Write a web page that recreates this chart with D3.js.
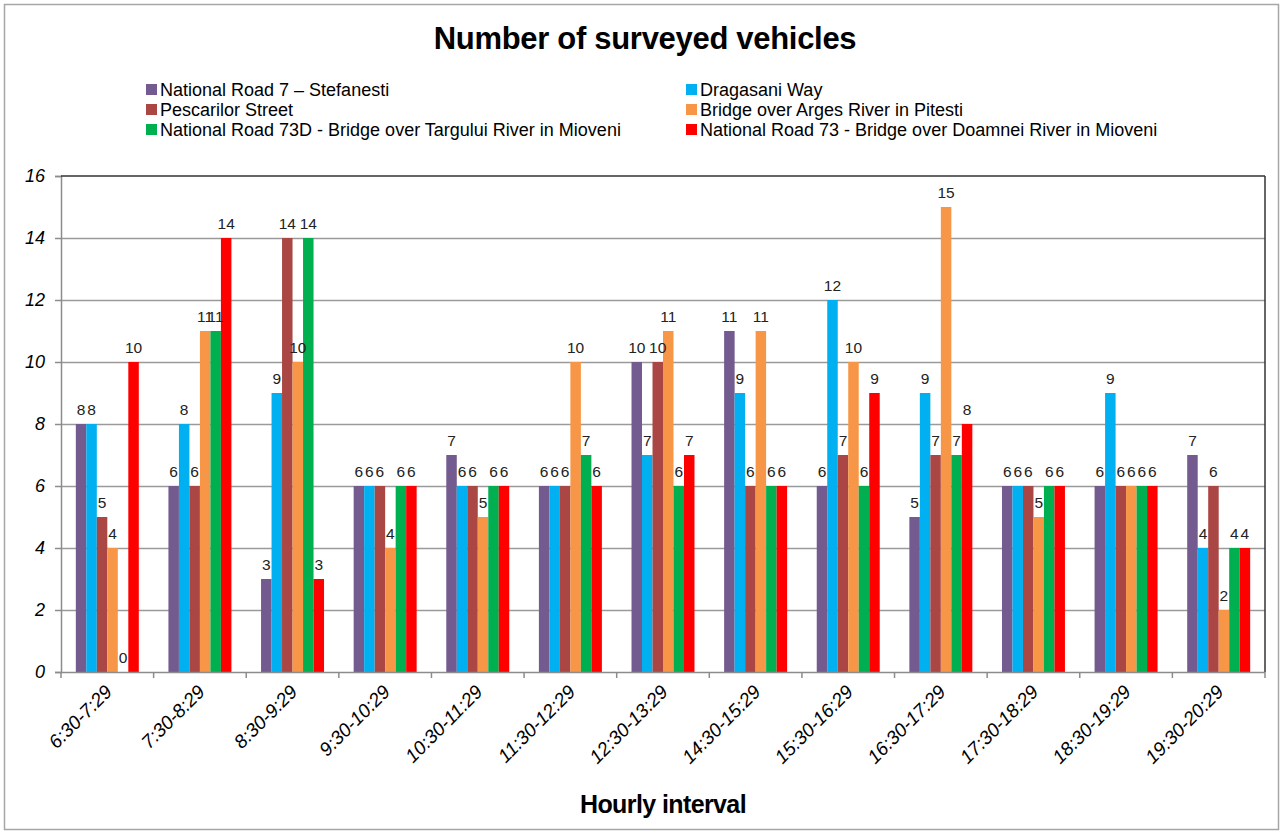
<!DOCTYPE html>
<html>
<head>
<meta charset="utf-8">
<script src="https://cdn.jsdelivr.net/npm/d3@7"></script>
<style>
  html, body { margin: 0; padding: 0; background: #fff; }
  svg { display: block; font-family: "Liberation Sans", Arial, sans-serif; }
</style>
</head>
<body>
<svg id="chart" width="1283" height="834"></svg>
<script>
// Hourly intervals of the survey
const categories = ["6:30-7:29", "7:30-8:29", "8:30-9:29", "9:30-10:29", "10:30-11:29",
  "11:30-12:29", "12:30-13:29", "14:30-15:29", "15:30-16:29", "16:30-17:29",
  "17:30-18:29", "18:30-19:29", "19:30-20:29"];

// Survey locations
const seriesNames = [
  "National Road 7 – Stefanesti",
  "Dragasani  Way",
  "Pescarilor Street",
  "Bridge over Arges River in Pitesti",
  "National Road 73D - Bridge over Targului River in Mioveni",
  "National Road 73 - Bridge over Doamnei  River in Mioveni"
];
const seriesColors = ["#735a8f", "#00b0f0", "#aa4643", "#f79646", "#00b050", "#ff0000"];

// Vehicle counts per location, one value per interval
const nr7Stefanesti   = [8, 6, 3, 6, 7, 6, 10, 11, 6, 5, 6, 6, 7];
const dragasaniWay    = [8, 8, 9, 6, 6, 6, 7, 9, 12, 9, 6, 9, 4];
const pescarilorSt    = [5, 6, 14, 6, 6, 6, 10, 6, 7, 7, 6, 6, 6];
const argesBridge     = [4, 11, 10, 4, 5, 10, 11, 11, 10, 15, 5, 6, 2];
const nr73dTargului   = [0, 11, 14, 6, 6, 7, 6, 6, 6, 7, 6, 6, 4];
const nr73Doamnei     = [10, 14, 3, 6, 6, 6, 7, 6, 9, 8, 6, 6, 4];

const yTicks = [0, 2, 4, 6, 8, 10, 12, 14, 16];

const seriesValues = [nr7Stefanesti, dragasaniWay, pescarilorSt, argesBridge, nr73dTargului, nr73Doamnei];

const svg = d3.select("#chart");

// outer frame
svg.append("rect")
  .attr("x", 4.5).attr("y", 4.5).attr("width", 1274).attr("height", 825)
  .attr("fill", "#fff").attr("stroke", "#a6a6a6").attr("stroke-width", 1.5);

const plot = { left: 61, right: 1265, top: 176, bottom: 672 };

const x0 = d3.scaleBand().domain(categories).range([plot.left, plot.right]).padding(0);
const bw = x0.bandwidth();
const x1 = d3.scaleBand().domain(d3.range(seriesNames.length))
  .range([bw * 0.16, bw * 0.84]).padding(0);
const y = d3.scaleLinear().domain([0, 16]).range([plot.bottom, plot.top]);

// title
svg.append("text")
  .attr("x", 645).attr("y", 49)
  .attr("text-anchor", "middle")
  .attr("font-size", 31).attr("font-weight", "bold").attr("fill", "#000")
  .attr("letter-spacing", "-0.3")
  .text("Number of surveyed vehicles");

// legend, two columns
const legendCols = [146, 686];
const legendRows = [90, 110, 130];
seriesNames.forEach((name, i) => {
  const cx = legendCols[i % 2];
  const cy = legendRows[Math.floor(i / 2)];
  const g = svg.append("g").attr("transform", `translate(${cx},${cy})`);
  g.append("rect").attr("x", 0).attr("y", -6).attr("width", 11).attr("height", 11)
    .attr("fill", seriesColors[i]);
  g.append("text").attr("x", 14).attr("y", 6)
    .attr("font-size", 18).attr("fill", "#000").text(name);
});

// horizontal gridlines
svg.append("g")
  .selectAll("line")
  .data(yTicks.filter(t => t > 0 && t < 16))
  .join("line")
  .attr("x1", plot.left).attr("x2", plot.right)
  .attr("y1", d => y(d) + 0.5).attr("y2", d => y(d) + 0.5)
  .attr("stroke", "#9a9a9a").attr("stroke-width", 1.5);

// y axis
const yAxis = d3.axisLeft(y).tickValues(yTicks).tickSize(6).tickPadding(10)
  .tickFormat(d3.format("d"));
const gy = svg.append("g").attr("transform", `translate(${plot.left},0)`).call(yAxis);
gy.select(".domain").attr("stroke", "#8c8c8c").attr("stroke-width", 1.5);
gy.selectAll(".tick line").attr("stroke", "#8c8c8c").attr("stroke-width", 1.5);
gy.selectAll(".tick text")
  .attr("font-size", 18).attr("font-style", "italic").attr("fill", "#000")
  .attr("font-family", "'Liberation Sans', Arial, sans-serif");

// bars
const groups = svg.append("g")
  .selectAll("g")
  .data(categories)
  .join("g")
  .attr("transform", d => `translate(${x0(d)},0)`);

groups.selectAll("rect")
  .data((c, ci) => seriesValues.map((vals, si) => ({ si, v: vals[ci] })))
  .join("rect")
  .attr("x", d => x1(d.si))
  .attr("width", x1.bandwidth())
  .attr("y", d => y(d.v))
  .attr("height", d => y(0) - y(d.v))
  .attr("fill", d => seriesColors[d.si]);

// value labels
groups.selectAll("text")
  .data((c, ci) => seriesValues.map((vals, si) => ({ si, v: vals[ci] })))
  .join("text")
  .attr("x", d => x1(d.si) + x1.bandwidth() / 2)
  .attr("y", d => y(d.v) - 9)
  .attr("text-anchor", "middle")
  .attr("font-size", 15.5).attr("fill", "#222")
  .text(d => d.v);

// plot frame: top and right edges
svg.append("line")
  .attr("x1", plot.left).attr("x2", plot.right)
  .attr("y1", plot.top).attr("y2", plot.top)
  .attr("stroke", "#333").attr("stroke-width", 1.5);
svg.append("line")
  .attr("x1", plot.right).attr("x2", plot.right)
  .attr("y1", plot.top).attr("y2", plot.bottom)
  .attr("stroke", "#333").attr("stroke-width", 1.5);

// x axis with ticks at band boundaries
svg.append("line")
  .attr("x1", plot.left).attr("x2", plot.right)
  .attr("y1", plot.bottom + 0.5).attr("y2", plot.bottom + 0.5)
  .attr("stroke", "#8c8c8c").attr("stroke-width", 1.5);
const boundaries = categories.map(c => x0(c)).concat([plot.right]);
svg.append("g").selectAll("line")
  .data(boundaries)
  .join("line")
  .attr("x1", d => d).attr("x2", d => d)
  .attr("y1", plot.bottom).attr("y2", plot.bottom + 6)
  .attr("stroke", "#8c8c8c").attr("stroke-width", 1.5);

// rotated category labels
svg.append("g").selectAll("text")
  .data(categories)
  .join("text")
  .attr("transform", d => `translate(${x0(d) + bw / 2 + 6},${plot.bottom + 21}) rotate(-45)`)
  .attr("text-anchor", "end")
  .attr("font-size", 19).attr("font-style", "italic").attr("fill", "#000")
  .text(d => d);

// x axis title
svg.append("text")
  .attr("x", 663).attr("y", 813)
  .attr("text-anchor", "middle")
  .attr("font-size", 25).attr("font-weight", "bold").attr("fill", "#000")
  .attr("letter-spacing", "-0.6")
  .text("Hourly interval");
</script>
</body>
</html>
